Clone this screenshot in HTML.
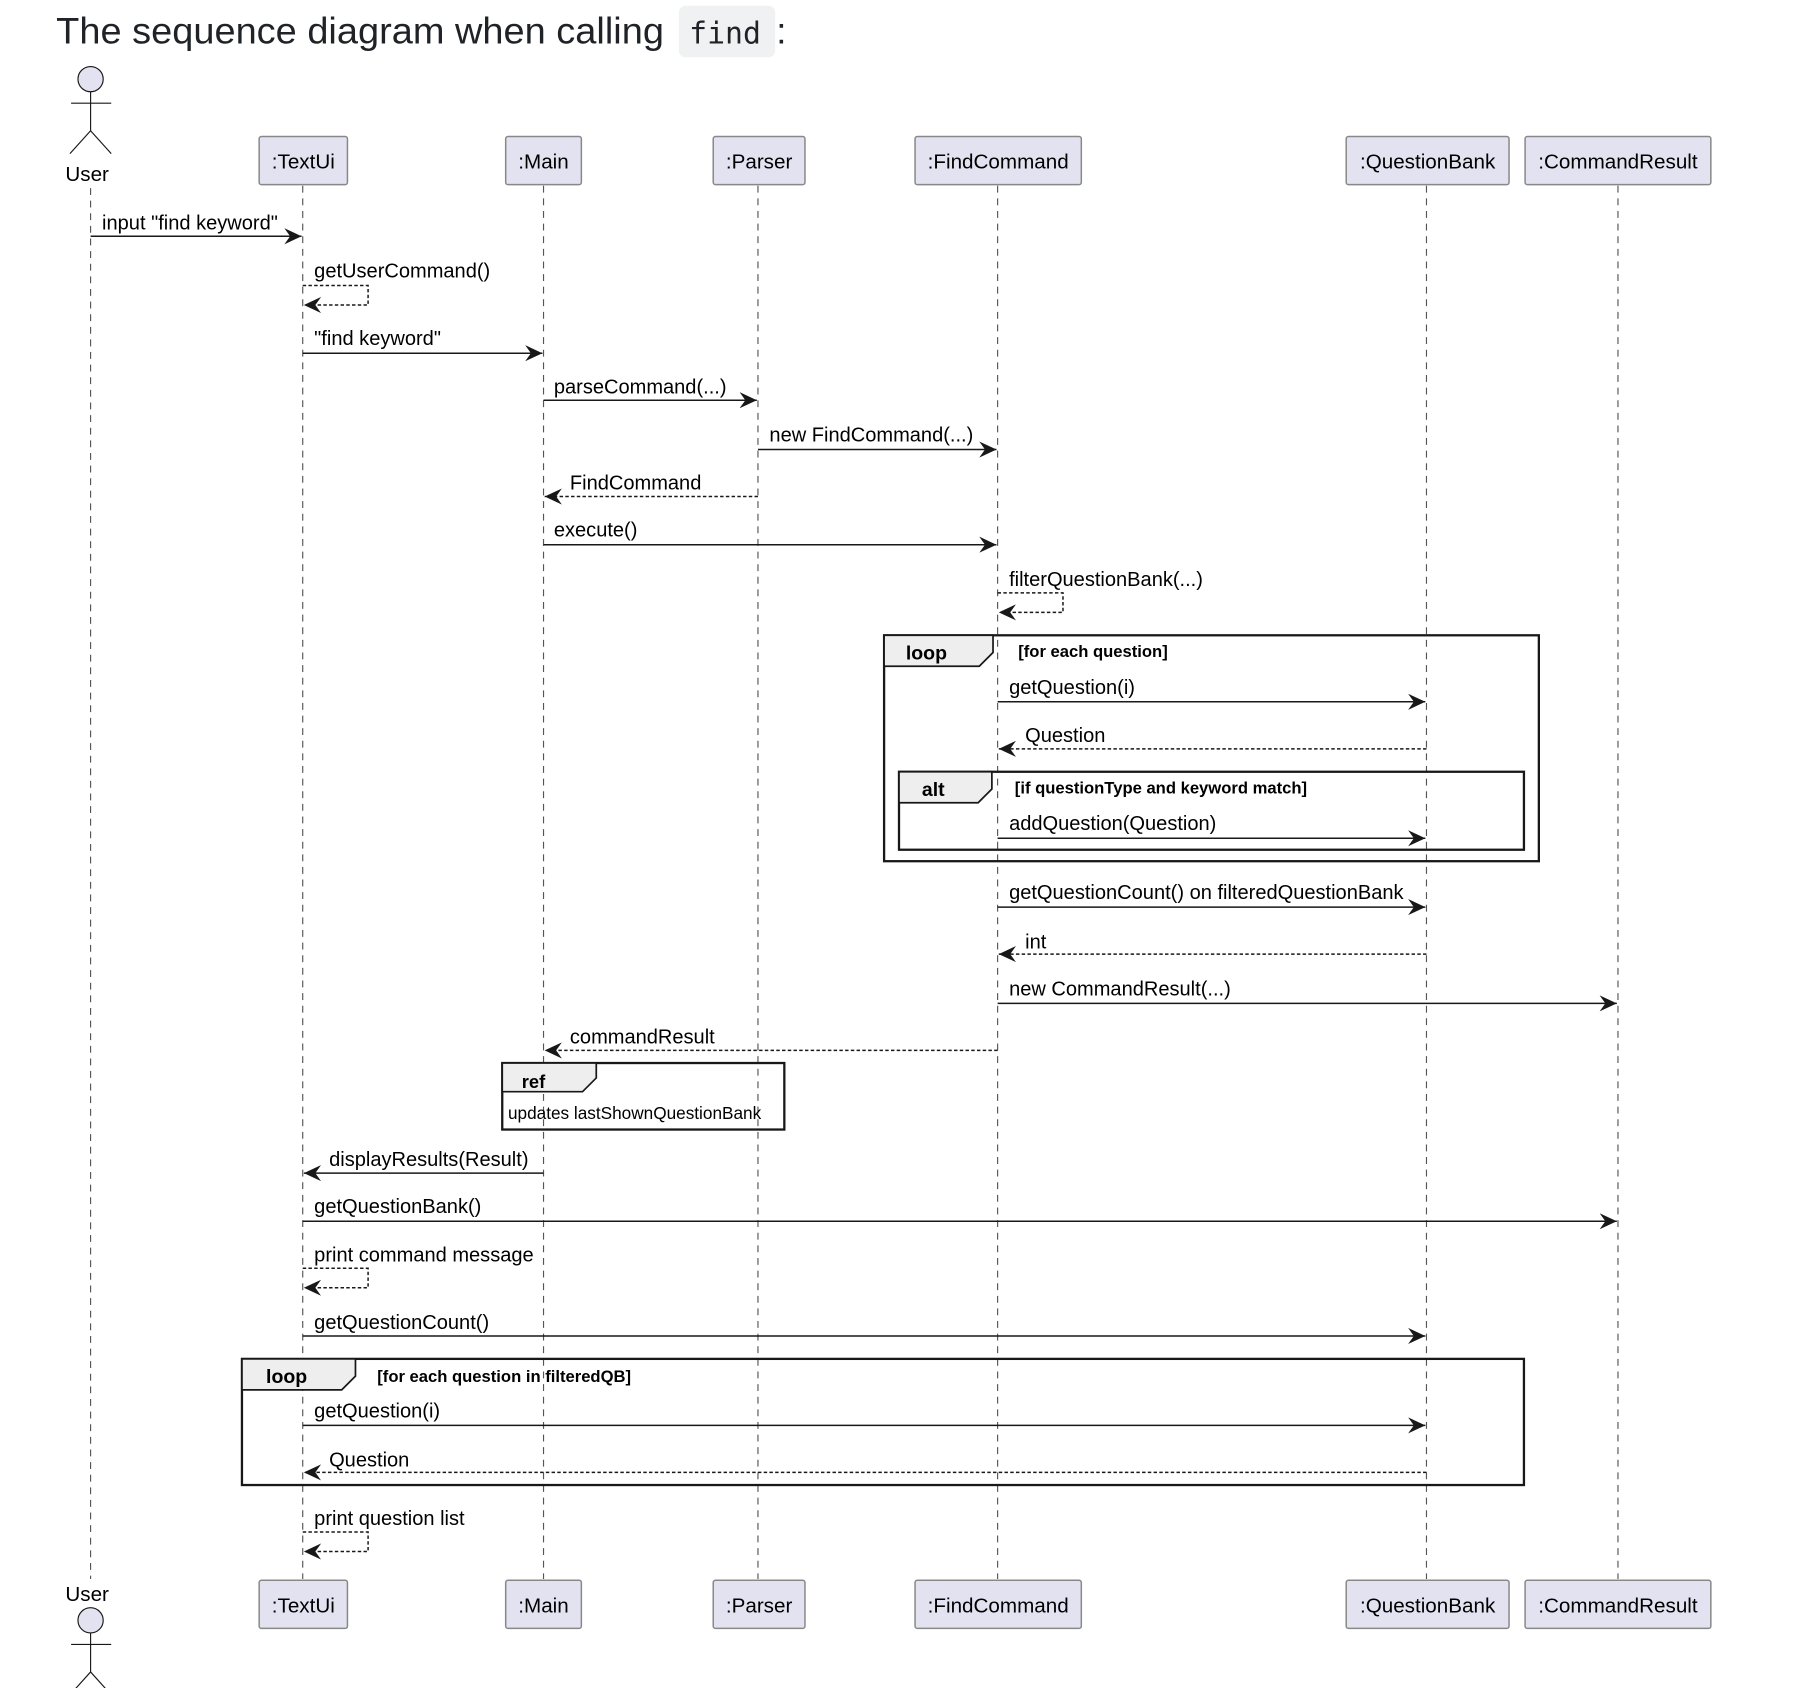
<!DOCTYPE html>
<html><head><meta charset="utf-8"><style>
html,body{margin:0;padding:0;background:#fff;}
svg{display:block;}
text{font-family:"Liberation Sans",Arial,sans-serif;fill:#000;}
</style></head><body>
<svg width="1798" height="1688" viewBox="0 0 1568 1472" preserveAspectRatio="none" xmlns="http://www.w3.org/2000/svg">
<defs>
<marker id="a" markerWidth="16" markerHeight="14" refX="15" refY="7" orient="auto" markerUnits="userSpaceOnUse">
<path d="M0,0 L15,7 L0,14 L5,7 Z" fill="#181818"/>
</marker>
</defs>
<!-- title -->
<text x="49" y="38" font-size="32" textLength="530" lengthAdjust="spacingAndGlyphs" style="font-family:'Liberation Sans',sans-serif;fill:#1f2328">The sequence diagram when calling</text>
<rect x="592" y="5" width="84" height="45" rx="6" fill="#eff1f3"/>
<text x="601" y="38" font-size="26" style="font-family:'DejaVu Sans Mono','Liberation Mono',monospace;fill:#1f2328">find</text>
<text x="677" y="38" font-size="32" style="font-family:'Liberation Sans',sans-serif;fill:#1f2328">:</text>

<!-- lifelines -->
<g stroke="#555" stroke-width="1" stroke-dasharray="6,5">
<line x1="79" y1="164" x2="79" y2="1377"/>
<line x1="264" y1="162" x2="264" y2="1377"/>
<line x1="474" y1="162" x2="474" y2="1377"/>
<line x1="661" y1="162" x2="661" y2="1377"/>
<line x1="870" y1="162" x2="870" y2="1377"/>
<line x1="1244" y1="162" x2="1244" y2="1377"/>
<line x1="1411" y1="162" x2="1411" y2="1377"/>
</g>

<!-- actors -->
<g fill="#e2e2f0" stroke="#181818" stroke-width="1">
<circle cx="79" cy="69" r="11"/>
<line x1="79" y1="80" x2="79" y2="114"/><line x1="62" y1="90" x2="97" y2="90"/>
<line x1="79" y1="114" x2="61" y2="134"/><line x1="79" y1="114" x2="97" y2="134"/>
<circle cx="79" cy="1413" r="11"/>
<line x1="79" y1="1424" x2="79" y2="1458"/><line x1="62" y1="1434" x2="97" y2="1434"/>
<line x1="79" y1="1458" x2="61" y2="1478"/><line x1="79" y1="1458" x2="97" y2="1478"/>
</g>
<text x="76" y="158" font-size="18" text-anchor="middle">User</text>
<text x="76" y="1396" font-size="18" text-anchor="middle">User</text>

<!-- participant boxes -->
<g fill="#e2e2f0" stroke="#888" stroke-width="1.3">
<rect x="226" y="119" width="77" height="42" rx="2"/>
<rect x="441" y="119" width="66" height="42" rx="2"/>
<rect x="622" y="119" width="80" height="42" rx="2"/>
<rect x="798" y="119" width="145" height="42" rx="2"/>
<rect x="1174" y="119" width="142" height="42" rx="2"/>
<rect x="1330" y="119" width="162" height="42" rx="2"/>
<rect x="226" y="1378" width="77" height="42" rx="2"/>
<rect x="441" y="1378" width="66" height="42" rx="2"/>
<rect x="622" y="1378" width="80" height="42" rx="2"/>
<rect x="798" y="1378" width="145" height="42" rx="2"/>
<rect x="1174" y="1378" width="142" height="42" rx="2"/>
<rect x="1330" y="1378" width="162" height="42" rx="2"/>
</g>
<g font-size="18" text-anchor="middle">
<text x="264.5" y="147">:TextUi</text><text x="474" y="147">:Main</text><text x="662" y="147">:Parser</text>
<text x="870.5" y="147">:FindCommand</text><text x="1245" y="147">:QuestionBank</text><text x="1411" y="147">:CommandResult</text>
<text x="264.5" y="1406">:TextUi</text><text x="474" y="1406">:Main</text><text x="662" y="1406">:Parser</text>
<text x="870.5" y="1406">:FindCommand</text><text x="1245" y="1406">:QuestionBank</text><text x="1411" y="1406">:CommandResult</text>
</g>

<!-- frames -->
<g fill="none" stroke="#181818" stroke-width="2">
<rect x="771" y="554" width="571" height="197"/>
<rect x="784" y="673" width="545" height="68"/>
<rect x="438" y="927" width="246" height="58"/>
<rect x="211" y="1185" width="1118" height="110"/>
</g>
<g fill="#eeeeee" stroke="#181818" stroke-width="1.5">
<path d="M771,554 L866,554 L866,569 L854,581 L771,581 Z"/>
<path d="M784,673 L865,673 L865,688 L853,700 L784,700 Z"/>
<path d="M438,927 L520,927 L520,940 L508,952 L438,952 Z"/>
<path d="M211,1185 L310,1185 L310,1200 L298,1212 L211,1212 Z"/>
</g>
<g font-weight="bold">
<text x="790" y="575" font-size="17">loop</text>
<text x="888" y="573" font-size="14.5">[for each question]</text>
<text x="804" y="694" font-size="17">alt</text>
<text x="885" y="692" font-size="14.5">[if questionType and keyword match]</text>
<text x="455" y="949" font-size="16">ref</text>
<text x="232" y="1206" font-size="17">loop</text>
<text x="329" y="1205" font-size="14.5">[for each question in filteredQB]</text>
</g>
<text x="443" y="976" font-size="15">updates lastShownQuestionBank</text>

<!-- messages -->
<g stroke="#181818" stroke-width="1.3" fill="none">
<line x1="79" y1="206" x2="263" y2="206" marker-end="url(#a)"/>
<path d="M264,249 L321,249 L321,266 L265,266" stroke-dasharray="3,2" marker-end="url(#a)"/>
<line x1="264" y1="308" x2="473" y2="308" marker-end="url(#a)"/>
<line x1="474" y1="349" x2="660" y2="349" marker-end="url(#a)"/>
<line x1="661" y1="392" x2="869" y2="392" marker-end="url(#a)"/>
<line x1="661" y1="433" x2="475" y2="433" stroke-dasharray="3,2" marker-end="url(#a)"/>
<line x1="474" y1="475" x2="869" y2="475" marker-end="url(#a)"/>
<path d="M870,517 L927,517 L927,534 L871,534" stroke-dasharray="3,2" marker-end="url(#a)"/>
<line x1="870" y1="612" x2="1243" y2="612" marker-end="url(#a)"/>
<line x1="1244" y1="653" x2="871" y2="653" stroke-dasharray="3,2" marker-end="url(#a)"/>
<line x1="870" y1="731" x2="1243" y2="731" marker-end="url(#a)"/>
<line x1="870" y1="791" x2="1243" y2="791" marker-end="url(#a)"/>
<line x1="1244" y1="832" x2="871" y2="832" stroke-dasharray="3,2" marker-end="url(#a)"/>
<line x1="870" y1="875" x2="1410" y2="875" marker-end="url(#a)"/>
<line x1="870" y1="916" x2="475" y2="916" stroke-dasharray="3,2" marker-end="url(#a)"/>
<line x1="474" y1="1023" x2="265" y2="1023" marker-end="url(#a)"/>
<line x1="264" y1="1065" x2="1410" y2="1065" marker-end="url(#a)"/>
<path d="M264,1106 L321,1106 L321,1123 L265,1123" stroke-dasharray="3,2" marker-end="url(#a)"/>
<line x1="264" y1="1165" x2="1243" y2="1165" marker-end="url(#a)"/>
<line x1="264" y1="1243" x2="1243" y2="1243" marker-end="url(#a)"/>
<line x1="1244" y1="1284" x2="265" y2="1284" stroke-dasharray="3,2" marker-end="url(#a)"/>
<path d="M264,1336 L321,1336 L321,1353 L265,1353" stroke-dasharray="3,2" marker-end="url(#a)"/>
</g>
<g font-size="17.5">
<text x="89" y="200">input "find keyword"</text>
<text x="274" y="242">getUserCommand()</text>
<text x="274" y="301">"find keyword"</text>
<text x="483" y="343">parseCommand(...)</text>
<text x="671" y="385">new FindCommand(...)</text>
<text x="497" y="427">FindCommand</text>
<text x="483" y="468">execute()</text>
<text x="880" y="511">filterQuestionBank(...)</text>
<text x="880" y="605">getQuestion(i)</text>
<text x="894" y="647">Question</text>
<text x="880" y="724">addQuestion(Question)</text>
<text x="880" y="784">getQuestionCount() on filteredQuestionBank</text>
<text x="894" y="827">int</text>
<text x="880" y="868">new CommandResult(...)</text>
<text x="497" y="910">commandResult</text>
<text x="287" y="1017">displayResults(Result)</text>
<text x="274" y="1058">getQuestionBank()</text>
<text x="274" y="1100">print command message</text>
<text x="274" y="1159">getQuestionCount()</text>
<text x="274" y="1236">getQuestion(i)</text>
<text x="287" y="1279">Question</text>
<text x="274" y="1330">print question list</text>
</g>
</svg>
</body></html>
